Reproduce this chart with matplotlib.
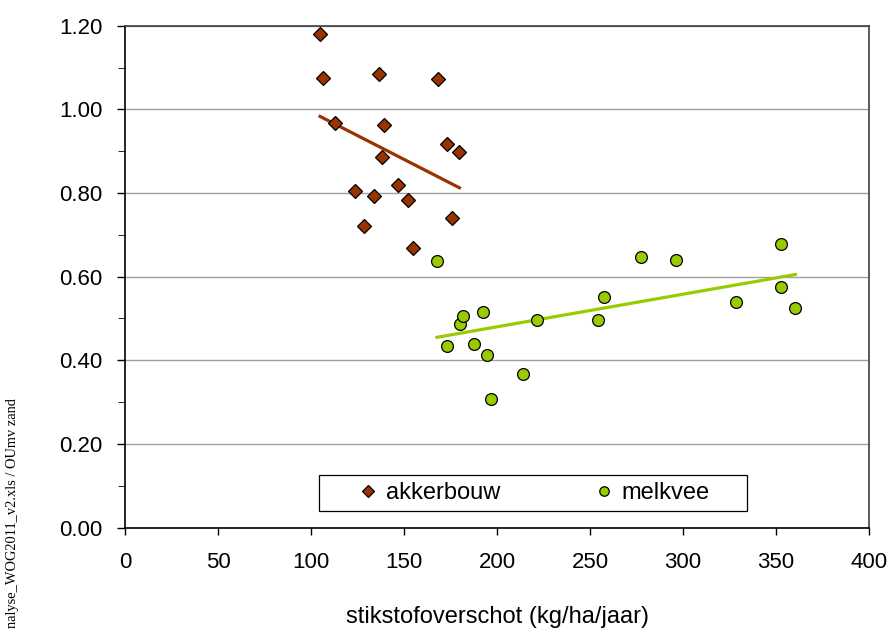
import numpy as np
import matplotlib.pyplot as plt
from matplotlib.patches import Rectangle
from matplotlib.ticker import MultipleLocator, FormatStrFormatter

plt.rcParams['font.family'] = ['Liberation Sans', 'DejaVu Sans']

# akkerbouw (arable farms)
akker_x = [104.9, 106.2, 112.9, 136.7, 139.0, 138.2, 123.9, 133.9, 128.5, 146.8, 152.2, 154.8, 168.5, 173.3, 179.8, 175.6]
akker_y = [1.181, 1.075, 0.967, 1.085, 0.963, 0.886, 0.805, 0.792, 0.721, 0.819, 0.782, 0.668, 1.072, 0.916, 0.898, 0.739]

# melkvee (dairy farms)
melk_x = [167.7, 173.1, 180.3, 181.5, 192.5, 187.8, 194.8, 213.8, 196.8, 221.6, 254.4, 257.4, 277.2, 296.4, 352.7, 352.7, 328.3, 360.4]
melk_y = [0.638, 0.434, 0.486, 0.505, 0.516, 0.438, 0.413, 0.368, 0.307, 0.496, 0.496, 0.551, 0.648, 0.639, 0.678, 0.575, 0.540, 0.526]

brown = '#993300'
green = '#99cc00'

fig = plt.figure(figsize=(8.91, 6.29), dpi=100)
ax = fig.add_axes([125/891, 1 - 527.5/629, 744/891, 501.8/629])

# trend lines (linear fit over each group)
for xs, ys, c in [(akker_x, akker_y, brown), (melk_x, melk_y, green)]:
    p = np.polyfit(xs, ys, 1)
    xx = np.array([min(xs), max(xs)])
    ax.plot(xx, np.polyval(p, xx), color=c, lw=2.3, zorder=2)

ax.plot(akker_x, akker_y, 'D', ms=7.5, mfc=brown, mec='black', mew=0.9, ls='none', label='akkerbouw', zorder=3)
ax.plot(melk_x, melk_y, 'o', ms=8.5, mfc=green, mec='black', mew=0.9, ls='none', label='melkvee', zorder=3)

ax.set_xlim(0, 400)
ax.set_ylim(0, 1.2)
ax.xaxis.set_major_locator(MultipleLocator(50))
ax.yaxis.set_major_locator(MultipleLocator(0.2))
ax.yaxis.set_minor_locator(MultipleLocator(0.1))
ax.yaxis.set_major_formatter(FormatStrFormatter('%.2f'))
ax.grid(axis='y', which='major', color='#a0a0a0', lw=1)
ax.set_axisbelow(True)

ax.tick_params(axis='both', labelsize=16, color='black', width=1)
ax.tick_params(axis='y', which='major', length=6, pad=10)
ax.tick_params(axis='y', which='minor', length=5)
ax.tick_params(axis='x', length=5, pad=13)

for s in ['left', 'bottom']:
    ax.spines[s].set_color('black')
    ax.spines[s].set_linewidth(1.2)
for s in ['top', 'right']:
    ax.spines[s].set_color('#404040')
    ax.spines[s].set_linewidth(1.2)

ax.set_xlabel('stikstofoverschot (kg/ha/jaar)', fontsize=17, labelpad=23.5)

# legend box
bx, by, bw, bh = 0.261, 0.033, 0.575, 0.072
ax.add_patch(Rectangle((bx, by), bw, bh, transform=ax.transAxes, fill=True, fc='white',
                       ec='black', lw=0.9, zorder=4))
leg = ax.legend(loc='center', bbox_to_anchor=(bx + bw/2, by + bh/2), ncol=2, fontsize=17,
                frameon=False, markerscale=0.8, handlelength=1.0, handletextpad=0.25,
                columnspacing=3.9, borderaxespad=0, borderpad=0)
leg.set_zorder(5)

fig.text(13/891, 1 - 398/629, 'nalyse_WOG2011_v2.xls / OUmv zand', rotation=90,
         ha='center', va='top', fontsize=10.4, family='Liberation Serif')

fig.savefig('out.png', dpi=100)
